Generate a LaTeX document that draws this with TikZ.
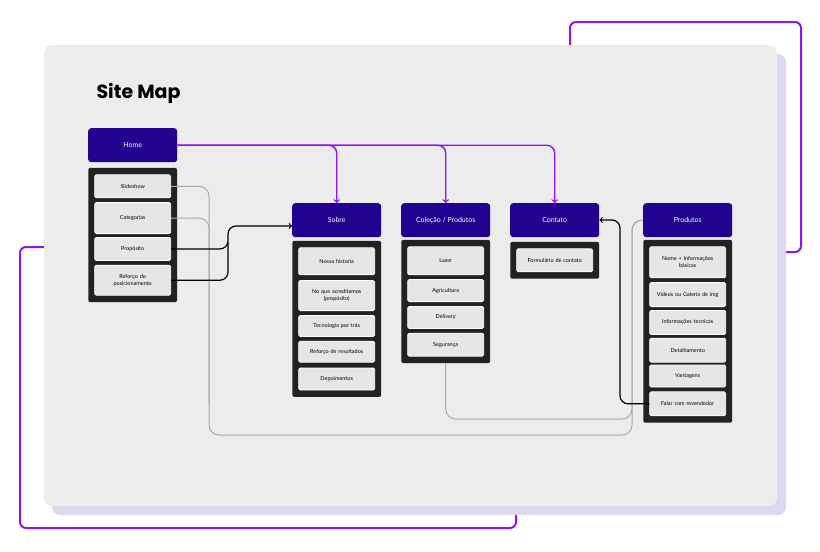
\documentclass[tikz,border=0pt]{standalone}
\usepackage{fontspec}
\setmainfont{Lato}
\newfontfamily\titlefont{Poppins}
\usetikzlibrary{positioning,fit,arrows,backgrounds}
\pgfdeclarelayer{back}
\pgfdeclarelayer{background}
\pgfsetlayers{back,background,main}
\definecolor{cardgray}{HTML}{ECECEC}
\definecolor{shadowlav}{HTML}{DCD8EE}
\definecolor{framepurple}{HTML}{8E14F5}
\definecolor{headblue}{HTML}{21038F}
\definecolor{panelblack}{HTML}{222222}
\definecolor{itemgray}{HTML}{E6E6E6}
\definecolor{linkgray}{HTML}{AAAAAA}
\tikzset{head/.style={rectangle,fill=headblue,rounded corners=3pt,text=white,
minimum width=89pt,minimum height=34pt,font=\fontsize{7}{8}\selectfont},
leaf/.style={rectangle,fill=itemgray,draw=white,line width=0.8pt,rounded corners=1.5pt,
text width=68pt,inner xsep=4pt,align=center,minimum height=23pt,
font=\fontsize{5.5}{7}\selectfont},
holder/.style={rectangle,fill=panelblack,rounded corners=2pt,inner xsep=6pt,inner ysep=6.5pt},
deco/.style={draw=framepurple,line width=2pt,rounded corners=6pt},
home link/.style={draw=framepurple,line width=1.4pt,rounded corners=8pt},
link/.style={draw=black,line width=1.2pt,rounded corners=8pt},
back link/.style={draw=linkgray,line width=1pt,rounded corners=10pt},
>=to}

\begin{document}
\begin{tikzpicture}[x=1pt,y=-1pt]
  \useasboundingbox (0,0) rectangle (820,552);
  \begin{pgfonlayer}{back}
    \draw[deco] (570,22) rectangle (801,252);
    \draw[deco] (20,247) rectangle (516,528);
    \fill[shadowlav,rounded corners=8pt] (52,54) rectangle (786,515);
    \fill[cardgray,rounded corners=8pt] (44,45) rectangle (777,506);
  \end{pgfonlayer}
  \node (title) [anchor=west,font=\titlefont\bfseries\fontsize{19}{20}\selectfont] at (93,93) {Site Map};
  % home
  \node (home) [head,anchor=north west] at (88,128) {Home};
  \node (homeA) [leaf,below=12pt of home] {Slideshow};
  \node (homeB) [leaf,below=4pt of homeA,minimum height=31pt] {Categorias};
  \node (homeC) [leaf,below=3pt of homeB] {Propósito};
  \node (homeD) [leaf,below=4pt of homeC,minimum height=30pt] {Reforço do\\posicionamento};
  % sobre
  \node (sobre) [head,anchor=north west] at (292,203) {Sobre};
  \node (sobreA) [leaf,below=10pt of sobre,minimum height=27pt] {Nossa historia};
  \node (sobreB) [leaf,below=5pt of sobreA,minimum height=30pt] {No que acreditamos\\(propósito)};
  \node (sobreC) [leaf,below=4pt of sobreB,minimum height=21pt] {Tecnologia por trás};
  \node (sobreD) [leaf,below=4pt of sobreC,minimum height=21pt] {Reforço de resultados};
  \node (sobreE) [leaf,below=5pt of sobreD,minimum height=22pt] {Depoimentos};
  % colecao
  \node (colecao) [head,anchor=north west] at (401,203) {Coleção / Produtos};
  \node (colA) [leaf,below=9pt of colecao,minimum height=28pt] {Lazer};
  \node (colB) [leaf,below=4pt of colA,minimum height=22pt] {Agricultura};
  \node (colC) [leaf,below=4pt of colB,minimum height=22pt] {Delivery};
  \node (colD) [leaf,below=4pt of colC] {Segurança};
  % contato
  \node (contato) [head,anchor=north west] at (510,203) {Contato};
  \node (contA) [leaf,below=11pt of contato] {Formulário de contato};
  % produtos
  \node (produtos) [head,anchor=north west] at (643,203) {Produtos};
  \node (prodA) [leaf,below=9pt of produtos,minimum height=31pt] {Nome + Informações\\básicas};
  \node (prodB) [leaf,below=4pt of prodA,minimum height=24pt] {Videos ou Galeria de img};
  \node (prodC) [leaf,below=3pt of prodB,minimum height=24pt] {Informações tecnicas};
  \node (prodD) [leaf,below=3pt of prodC,minimum height=24pt] {Detalhamento};
  \node (prodE) [leaf,below=2pt of prodD,minimum height=22pt] {Vantagens};
  \node (prodF) [leaf,below=4pt of prodE,minimum height=24pt] {Falar com revendedor};
  \begin{pgfonlayer}{background}
    \node (homebox) [holder,fit=(homeA)(homeD)] {};
    \node (sobrebox) [holder,fit=(sobreA)(sobreE)] {};
    \node (colbox) [holder,fit=(colA)(colD)] {};
    \node (contbox) [holder,fit=(contA)] {};
    \node (prodbox) [holder,fit=(prodA)(prodF)] {};
  \end{pgfonlayer}
  % connectors
  \coordinate (gl) at (209,435);
  \coordinate (gr) at (632,435);
  \coordinate (gi) at (632,419);
  \coordinate (ba) at (228,226);
  \coordinate (bb) at (620,220);
  \draw[back link] (homeA.east) -| (gl) -- (gr) |- (produtos.west);
  \draw[back link] (homeB.east) -| ([yshift=30pt]gl);
  \draw[back link] (colbox.south) |- (gi) |- (produtos.west);
  \draw[home link,->] (home.east) -| (sobre.north);
  \draw[home link,->] (home.east) -| (colecao.north);
  \draw[home link,->] (home.east) -| (contato.north);
  \draw[link,->] (homeC.east) -| (ba) -- (ba -| sobre.west);
  \draw[link] (homeD.east) -| ([yshift=-16pt]ba);
  \draw[link,->] (prodF.west) -| (bb) -- (bb -| contato.east);
\end{tikzpicture}
\end{document}
